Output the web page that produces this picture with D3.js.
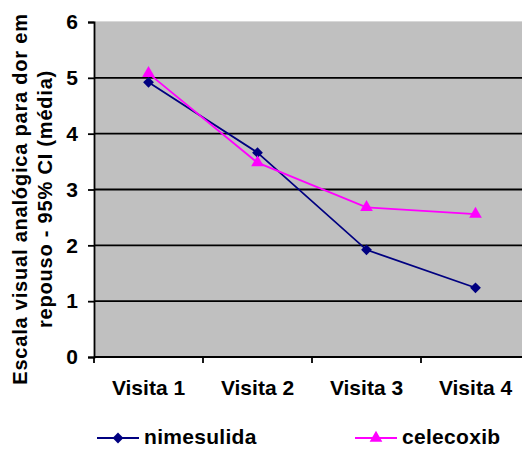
<!DOCTYPE html>
<html>
<head>
<meta charset="utf-8">
<script src="https://cdn.jsdelivr.net/npm/d3@7"></script>
<style>
  html, body { margin: 0; padding: 0; background: #fff; }
  svg { display: block; font-family: Arial, "Liberation Sans", sans-serif; }
</style>
</head>
<body>
<svg id="chart" width="522" height="453"></svg>
<script>
// Visits and mean pain scores (VAS at rest) for each treatment
const categories = ["Visita 1", "Visita 2", "Visita 3", "Visita 4"];
const nimesulida = [4.92, 3.66, 1.92, 1.24];
const celecoxib = [5.08, 3.48, 2.68, 2.56];
const yTicks = [0, 1, 2, 3, 4, 5, 6];
const seriesNames = ["nimesulida", "celecoxib"];

const svg = d3.select("#chart");
const W = 522;
const plotLeft = 94, plotTop = 22, plotBottom = 357, bandW = 109;

const x = d3.scaleBand().domain(categories).range([plotLeft, plotLeft + bandW * categories.length]);
const y = d3.scaleLinear().domain([0, 6]).range([plotBottom, plotTop]);

// square diamond marker
const squareDiamond = {
  draw(ctx, size) {
    const r = Math.sqrt(size / 2);
    ctx.moveTo(0, -r); ctx.lineTo(r, 0); ctx.lineTo(0, r); ctx.lineTo(-r, 0); ctx.closePath();
  }
};

// plot area
svg.append("rect")
  .attr("x", plotLeft).attr("y", plotTop)
  .attr("width", W - plotLeft).attr("height", plotBottom - plotTop)
  .attr("fill", "#c0c0c0");
svg.append("line")
  .attr("x1", plotLeft).attr("x2", W).attr("y1", plotTop - 0.5).attr("y2", plotTop - 0.5)
  .attr("stroke", "#d8d8d8").attr("stroke-width", 1);

// gridlines
svg.append("g").selectAll("line").data(yTicks.filter(d => d > 0 && d < 6)).join("line")
  .attr("x1", plotLeft).attr("x2", W)
  .attr("y1", d => y(d)).attr("y2", d => y(d))
  .attr("stroke", "#000").attr("stroke-width", 1.8);

// y axis
const yAxis = svg.append("g").attr("transform", `translate(${plotLeft},0)`)
  .call(d3.axisLeft(y).tickValues(yTicks).tickSize(6).tickPadding(10).tickFormat(d3.format("d")));
yAxis.select(".domain").attr("stroke", "#000").attr("stroke-width", 1.8);
yAxis.selectAll(".tick line").attr("stroke", "#000").attr("stroke-width", 1.8);
yAxis.selectAll("text").attr("font-size", 21).attr("font-weight", "bold")
  .attr("font-family", "Arial, 'Liberation Sans', sans-serif").attr("fill", "#000");

// x axis (ticks at category boundaries)
const xg = svg.append("g").attr("transform", `translate(0,${plotBottom})`);
xg.append("line").attr("x1", plotLeft).attr("x2", W).attr("y1", 0).attr("y2", 0)
  .attr("stroke", "#000").attr("stroke-width", 1.8);
xg.selectAll("line.tk").data(categories).join("line").attr("class", "tk")
  .attr("x1", d => x(d)).attr("x2", d => x(d)).attr("y1", 0).attr("y2", 6)
  .attr("stroke", "#000").attr("stroke-width", 1.8);
xg.selectAll("text").data(categories).join("text")
  .attr("x", d => x(d) + x.bandwidth() / 2).attr("y", 38)
  .attr("text-anchor", "middle").attr("font-size", 21).attr("font-weight", "bold")
  .text(d => d);

// y axis title
const yt = svg.append("text")
  .attr("transform", `translate(27,199) rotate(-90)`)
  .attr("text-anchor", "middle").attr("font-size", 20).attr("font-weight", "bold")
  .attr("letter-spacing", 0.8);
yt.append("tspan").attr("x", 0).attr("dy", 0).text("Escala visual analógica para dor em");
yt.append("tspan").attr("x", 0).attr("dy", 25).text("repouso - 95% CI (média)");

// series
const cx = d => x(d) + x.bandwidth() / 2;
const series = [
  { name: seriesNames[0], values: nimesulida, color: "#000080", shape: squareDiamond, size: 58 },
  { name: seriesNames[1], values: celecoxib, color: "#ff00ff", shape: d3.symbolTriangle, size: 70 }
];
const line = d3.line().x((d, i) => cx(categories[i])).y(d => y(d));

series.forEach(s => {
  svg.append("path").datum(s.values)
    .attr("d", line).attr("fill", "none")
    .attr("stroke", s.color).attr("stroke-width", 1.8);
});
series.forEach(s => {
  svg.append("g").selectAll("path").data(s.values).join("path")
    .attr("transform", (d, i) => `translate(${cx(categories[i])},${y(d)})`)
    .attr("d", d3.symbol().type(s.shape).size(s.size))
    .attr("fill", s.color);
});

// legend
const legendPos = [97, 355];
series.forEach((s, i) => {
  const g = svg.append("g").attr("transform", `translate(${legendPos[i]},438)`);
  g.append("line").attr("x1", 0).attr("x2", 42).attr("y1", 0).attr("y2", 0)
    .attr("stroke", s.color).attr("stroke-width", 1.8);
  g.append("path").attr("transform", "translate(21,0)")
    .attr("d", d3.symbol().type(s.shape).size(s.size)).attr("fill", s.color);
  g.append("text").attr("x", 47).attr("y", 5.5)
    .attr("font-size", 21).attr("font-weight", "bold").attr("letter-spacing", 0.3).text(s.name);
});
</script>
</body>
</html>
